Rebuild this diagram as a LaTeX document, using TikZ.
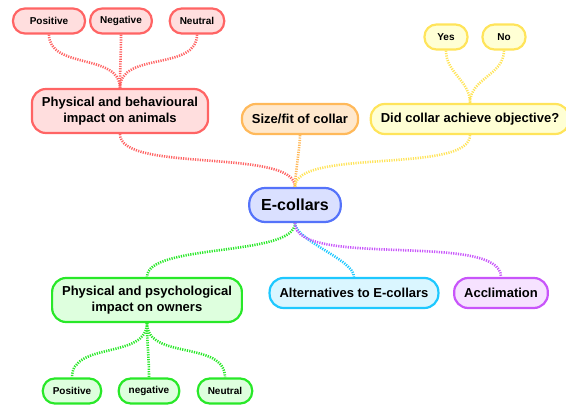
\documentclass[tikz,border=0pt]{standalone}
\usepackage{fontspec}
\setmainfont{Liberation Sans}
\usetikzlibrary{positioning}

\definecolor{redline}{RGB}{255,100,100}
\definecolor{redfill}{RGB}{255,222,222}
\definecolor{orangeline}{RGB}{255,185,90}
\definecolor{orangefill}{RGB}{255,232,205}
\definecolor{yellowline}{RGB}{255,228,90}
\definecolor{yellowfill}{RGB}{255,255,212}
\definecolor{blueline}{RGB}{85,115,250}
\definecolor{bluefill}{RGB}{218,224,255}
\definecolor{greenline}{RGB}{40,232,40}
\definecolor{greenfill}{RGB}{222,255,222}
\definecolor{cyanline}{RGB}{30,200,255}
\definecolor{cyanfill}{RGB}{218,246,255}
\definecolor{purpleline}{RGB}{200,85,250}
\definecolor{purplefill}{RGB}{246,226,255}

\tikzset{every node/.style={draw, line width=2.2pt, align=center, inner xsep=10pt, inner ysep=3pt}}
\tikzset{small/.style={minimum height=25pt, rounded corners=12pt, font=\bfseries\fontsize{10}{12}\selectfont}}
\tikzset{mid/.style={minimum height=30pt, rounded corners=14pt, font=\bfseries\fontsize{13}{15}\selectfont}}
\tikzset{big/.style={minimum height=44pt, rounded corners=14pt, font=\bfseries\fontsize{13}{16}\selectfont}}
\tikzset{link/.style={dash pattern=on 1.2pt off 1.2pt, line width=2.6pt, out=-90, in=90}}
\tikzset{mainlink/.style={link, looseness=0.55}}
\tikzset{redbox/.style={draw=redline, fill=redfill}}
\tikzset{orangebox/.style={draw=orangeline, fill=orangefill}}
\tikzset{yellowbox/.style={draw=yellowline, fill=yellowfill}}
\tikzset{bluebox/.style={draw=blueline, fill=bluefill}}
\tikzset{greenbox/.style={draw=greenline, fill=greenfill}}
\tikzset{cyanbox/.style={draw=cyanline, fill=cyanfill}}
\tikzset{purplebox/.style={draw=purpleline, fill=purplefill}}

\begin{document}
\begin{tikzpicture}[on grid, x=1pt, y=1pt]
  \useasboundingbox (-295,205) rectangle (271,-201);

  \node (ecol) [bluebox, minimum height=34pt, rounded corners=16pt, inner xsep=12pt,
    font=\bfseries\fontsize{16}{18}\selectfont] {E-collars};

  \node (behav) [big, redbox, above left=94pt and 175pt of ecol] {Physical and behavioural\\impact on animals};
  \node (size) [mid, orangebox, above=86pt of ecol, xshift=5pt] {Size/fit of collar};
  \node (did) [mid, yellowbox, above right=86pt and 175pt of ecol] {Did collar achieve objective?};
  \node (psych) [big, greenbox, below left=95pt and 148pt of ecol] {Physical and psychological\\impact on owners};
  \node (alt) [mid, cyanbox, below right=88pt and 59pt of ecol] {Alternatives to E-collars};
  \node (accl) [mid, purplebox, below right=88pt and 206pt of ecol] {Acclimation};

  \node (pos1) [small, redbox, minimum width=72pt, above left=90pt and 71pt of behav] {Positive};
  \node (neg1) [small, redbox, above=90pt of behav, xshift=1pt] {Negative};
  \node (neu1) [small, redbox, above right=90pt and 77pt of behav] {Neutral};

  \node (yes) [small, yellowbox, minimum width=43pt, above left=82pt and 24pt of did] {Yes};
  \node (no) [small, yellowbox, minimum width=43pt, above right=82pt and 34pt of did] {No};

  \node (pos2) [small, greenbox, below left=91pt and 75pt of psych] {Positive};
  \node (neg2) [small, greenbox, below=91pt of psych, xshift=2pt] {negative};
  \node (neu2) [small, greenbox, below right=91pt and 78pt of psych] {Neutral};

  \path (pos1) edge[link, draw=redline] (behav);
  \path (neg1) edge[link, draw=redline] (behav);
  \path (neu1) edge[link, draw=redline] (behav);

  \path (yes) edge[link, draw=yellowline] (did);
  \path (no) edge[link, draw=yellowline] (did);

  \path (behav) edge[mainlink, draw=redline] (ecol);
  \path (size) edge[mainlink, draw=orangeline] (ecol);
  \path (did) edge[mainlink, draw=yellowline] (ecol);

  \path (ecol) edge[mainlink, draw=greenline] (psych);
  \path (ecol) edge[mainlink, draw=cyanline] (alt);
  \path (ecol) edge[mainlink, draw=purpleline] (accl);

  \path (psych) edge[link, draw=greenline] (pos2);
  \path (psych) edge[link, draw=greenline] (neg2);
  \path (psych) edge[link, draw=greenline] (neu2);
\end{tikzpicture}
\end{document}
